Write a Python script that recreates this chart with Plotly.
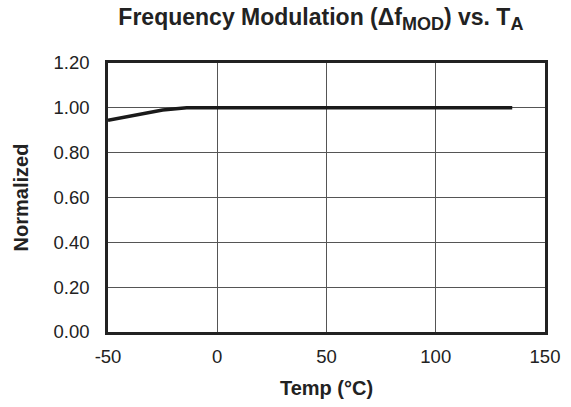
import plotly.graph_objects as go

temp = [-50, -38, -25, -14, 0, 25, 50, 75, 100, 125, 135]
normalized = [0.945, 0.968, 0.99, 1.0, 1.0, 1.0, 1.0, 1.0, 1.0, 1.0, 1.0]

x_ticks = [-50, 0, 50, 100, 150]
y_ticks = [0.0, 0.2, 0.4, 0.6, 0.8, 1.0, 1.2]
y_labels = ["0.00", "0.20", "0.40", "0.60", "0.80", "1.00", "1.20"]

font = "Liberation Sans, Arial, sans-serif"

fig = go.Figure()
fig.add_trace(go.Scatter(x=temp, y=normalized, mode="lines",
                         line=dict(color="#1a1a1a", width=3.5), showlegend=False))

fig.update_layout(
    width=571, height=407,
    margin=dict(l=108, r=26, t=63, b=75),
    paper_bgcolor="white", plot_bgcolor="white",
    font=dict(family=font, size=18.5, color="#222"),
    title=dict(text="<b>Frequency Modulation (Δf<sub><span style='font-size:18px'>MOD</span></sub>) vs. T<sub><span style='font-size:18px'>A</span></sub></b>",
               x=0.562, xanchor="center", y=0.958, yanchor="middle",
               font=dict(size=23, family=font, color="#222")),
)
fig.update_xaxes(
    range=[-50, 150], tickvals=x_ticks, ticktext=[str(v) for v in x_ticks],
    showgrid=True, gridcolor="#555", gridwidth=1,
    showline=True, linecolor="#222", linewidth=2.5, mirror=True,
    ticks="", zeroline=False, ticklabelstandoff=6, automargin=False,
    title=dict(text="<b>Temp (°C)</b>", font=dict(size=20, family=font), standoff=16),
)
fig.update_yaxes(
    range=[0, 1.2], tickvals=y_ticks, ticktext=y_labels,
    showgrid=True, gridcolor="#555", gridwidth=1,
    showline=True, linecolor="#222", linewidth=2.5, mirror=True,
    ticks="", zeroline=False, ticklabelstandoff=12, automargin=False,
    title=dict(text="<b>Normalized</b>", font=dict(size=20, family=font), standoff=20),
)

fig.write_html("out.html")
